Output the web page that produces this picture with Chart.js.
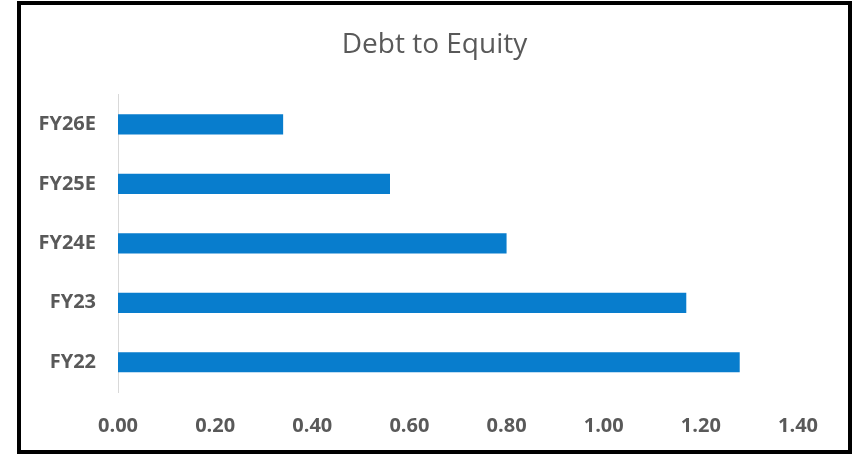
<!DOCTYPE html>
<html>
<head>
<meta charset="utf-8">
<script src="https://cdn.jsdelivr.net/npm/chart.js@4.4.0/dist/chart.umd.min.js"></script>
<style>
  html, body { margin: 0; padding: 0; background: #fff; }
  #frame {
    position: absolute;
    left: 17px; top: 1px;
    width: 827px; height: 445px;
    border: 4px solid #000;
    background: #fff;
  }
</style>
</head>
<body>
<div id="frame"><canvas id="chart"></canvas></div>
<script>
const categories = ['FY22', 'FY23', 'FY24E', 'FY25E', 'FY26E'];
const debtToEquity = [1.28, 1.17, 0.80, 0.56, 0.34];
const xTicks = { min: 0, max: 1.4, step: 0.2 };

const textColor = '#595959';
const fontFamily = '"Open Sans", Lato, sans-serif';

// keep the title centred on the whole box, not just the padded area
const fullWidthTitle = {
  id: 'fullWidthTitle',
  afterLayout(chart) {
    const t = chart.titleBlock;
    if (!t) return;
    t.left = 0;
    t.right = chart.width;
    t.width = chart.width;
  },
};

const ctx = document.getElementById('chart').getContext('2d');
const chart = new Chart(ctx, {
  type: 'bar',
  data: {
    labels: categories,
    datasets: [
      {
        label: 'Debt to Equity',
        data: debtToEquity,
        backgroundColor: '#087dcd',
        borderWidth: 0,
        categoryPercentage: 0.34,
        barPercentage: 1,
      },
    ],
  },
  plugins: [fullWidthTitle],
  options: {
    indexAxis: 'y',
    responsive: true,
    maintainAspectRatio: false,
    animation: false,
    layout: {
      padding: { left: 0, right: 50, top: 0, bottom: 0 },
    },
    plugins: {
      legend: { display: false },
      tooltip: { enabled: false },
      title: {
        display: true,
        text: 'Debt to Equity',
        color: textColor,
        font: { family: fontFamily, size: 28, weight: 'normal' },
        padding: { top: 23, bottom: 33 },
      },
    },
    scales: {
      x: {
        min: xTicks.min,
        max: xTicks.max,
        grid: { display: false, drawTicks: false },
        border: { display: false },
        ticks: {
          stepSize: xTicks.step,
          padding: 22,
          color: textColor,
          font: { family: fontFamily, size: 20, weight: 'bold' },
          callback: (v) => Number(v).toFixed(2),
        },
        afterFit: (scale) => { scale.height = 58; },
      },
      y: {
        reverse: true,
        grid: { display: false, drawTicks: false },
        border: { display: true, color: '#d9d9d9', width: 1 },
        ticks: {
          padding: 22,
          color: textColor,
          font: { family: fontFamily, size: 20, weight: 'bold' },
        },
        afterFit: (scale) => { scale.width = 97; },
      },
    },
  },
});
</script>
</body>
</html>
